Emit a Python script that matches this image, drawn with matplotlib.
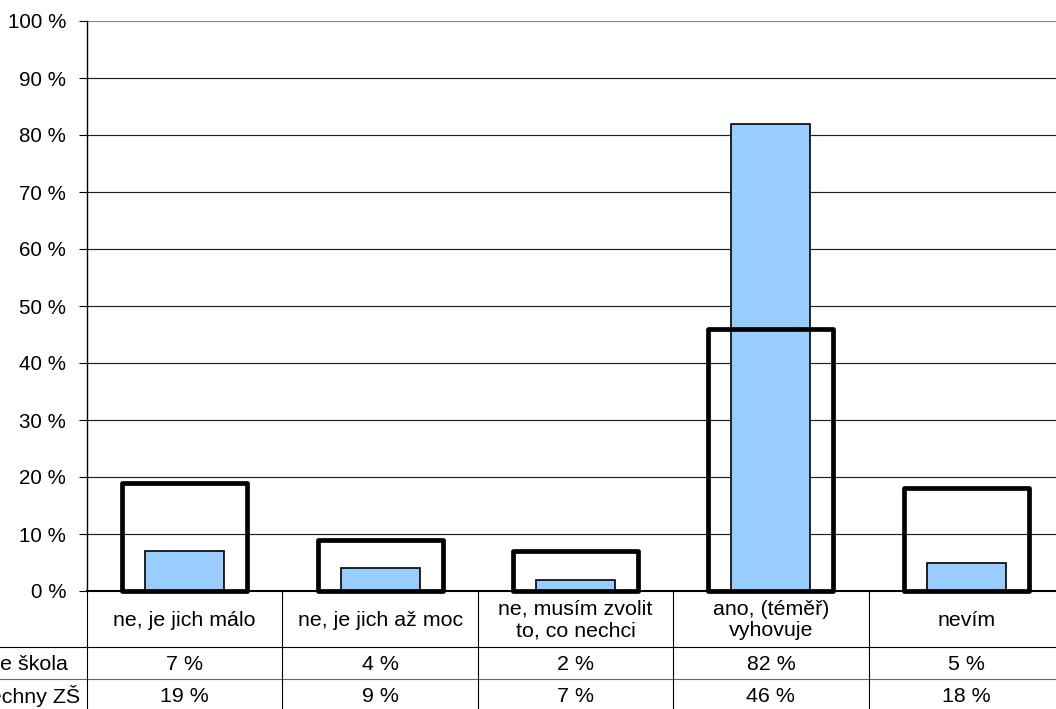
import matplotlib
matplotlib.use("Agg")
import matplotlib.pyplot as plt
import numpy as np

categories = ["ne, je jich málo", "ne, je jich až moc", "ne, musím zvolit\nto, co nechci",
              "ano, (téměř)\nvyhovuje", "nevím"]
series_names = ["Vaše škola", "Všechny ZŠ"]
vase_skola = [7, 4, 2, 82, 5]
vsechny_zs = [19, 9, 7, 46, 18]
y_ticks = [0, 10, 20, 30, 40, 50, 60, 70, 80, 90, 100]

plt.rcParams['font.family'] = ['Liberation Sans', 'DejaVu Sans']
FS = 14.8
FS_T = 15.4

W, H = 1056, 709
fig = plt.figure(figsize=(W / 100, H / 100), dpi=100)

# pixel layout
ax_left, ax_right = 87, 1064
ax_top, ax_bottom = 21, 591
row1, row2, tbl_bottom = 647, 679, 711

ax = fig.add_axes([ax_left / W, (H - ax_bottom) / H, (ax_right - ax_left) / W, (ax_bottom - ax_top) / H])
x = np.arange(len(categories))
ax.set_xlim(-0.5, len(categories) - 0.5)
ax.set_ylim(0, 100)

# gridlines
for t in y_ticks[1:-1]:
    ax.axhline(t, color='#202020', lw=0.85, zorder=1)
ax.axhline(100, color='#888888', lw=1.6, zorder=1)

ax.bar(x, vase_skola, width=0.405, color='#99CCFF', edgecolor='black', linewidth=1.2, zorder=2)
ax.bar(x, vsechny_zs, width=0.64, fill=False, edgecolor='black', linewidth=3.4, zorder=3,
       joinstyle='round', clip_on=False)

ax.set_yticks(y_ticks)
ax.set_yticklabels([f"{t} %" for t in y_ticks], fontsize=FS)
ax.tick_params(axis='y', length=5.5, width=0.8, pad=9.5, color='black')
ax.set_xticks([])
for s in ['top', 'right']:
    ax.spines[s].set_visible(False)
ax.spines['left'].set_linewidth(1.0)
ax.spines['bottom'].set_linewidth(1.5)

# data table
col_w = (ax_right - ax_left) / len(categories)
tax = fig.add_axes([0, (H - tbl_bottom) / H, ax_right / W, (tbl_bottom - ax_bottom) / H])
x0 = -0.5 - ax_left / col_w
tax.set_xlim(x0, len(categories) - 0.5)
tax.set_ylim(tbl_bottom, ax_bottom)
tax.axis('off')

tax.plot([x0, len(categories) - 0.5], [row1, row1], color='black', lw=0.8)
tax.plot([x0, len(categories) - 0.5], [row2, row2], color='#666666', lw=0.8)
for b in np.arange(-0.5, len(categories) - 0.5, 1.0):
    tax.plot([b, b], [ax_bottom, tbl_bottom], color='black', lw=0.8)

for i, c in enumerate(categories):
    tax.text(i, (ax_bottom + row1) / 2 + 1, c, ha='center', va='center', fontsize=FS_T, linespacing=1.15)
    tax.text(i, (row1 + row2) / 2 + 1, f"{vase_skola[i]} %", ha='center', va='center', fontsize=FS_T)
    tax.text(i, (row2 + tbl_bottom) / 2 + 1, f"{vsechny_zs[i]} %", ha='center', va='center', fontsize=FS_T)

lab_x = -0.5 - (ax_left + 35) / col_w
tax.text(lab_x, (row1 + row2) / 2 + 1, series_names[0], ha='left', va='center', fontsize=FS_T)
tax.text(lab_x, (row2 + tbl_bottom) / 2 + 1, series_names[1], ha='left', va='center', fontsize=FS_T)

fig.savefig("out.png", dpi=100)
